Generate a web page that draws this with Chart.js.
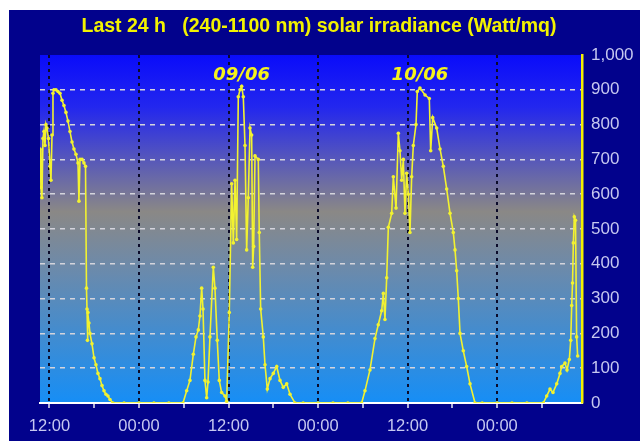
<!DOCTYPE html>
<html>
<head>
<meta charset="utf-8">
<title>Solar irradiance</title>
<script src="https://cdn.jsdelivr.net/npm/chart.js@4.4.1/dist/chart.umd.min.js"></script>
<style>
  html, body { margin: 0; padding: 0; background: #fff; }
  #wrap { width: 644px; height: 441px; position: relative; }
</style>
</head>
<body>
<div id="wrap"><canvas id="chart"></canvas></div>
<script>
// time in hours since 08/06 12:00, irradiance in W/m2
const hours = [
  -1.27, -1.14, -1.01, -0.87, -0.74, -0.60, -0.47, -0.34, -0.13, 0.07, 0.20, 0.34, 0.47, 0.60, 0.87,
  1.14, 1.41, 1.68, 1.94, 2.21, 2.48, 2.75, 3.02, 3.28, 3.55, 3.82, 3.95, 4.09, 4.36, 4.62, 4.83,
  4.96, 5.03, 5.09, 5.16, 5.29, 5.43, 5.70, 5.97, 6.23, 6.50, 6.77, 7.04, 7.31, 7.57, 7.84, 8.11, 8.51,
  10, 12, 14, 16,
  17.90, 18.39, 18.83, 19.28, 19.64, 19.95, 20.17, 20.40, 20.58, 20.84, 21.07, 21.25, 21.51, 21.96,
  22.18, 22.49, 22.76, 23.08, 23.53, 23.75, 24.10, 24.42, 24.64, 24.87, 25.09, 25.31, 25.54, 25.76,
  25.98, 26.21, 26.43, 26.65, 26.88, 27.10, 27.24, 27.37, 27.55, 27.99, 28.12, 28.31, 28.66, 28.89,
  29.20, 29.56, 30.00, 30.46, 30.90, 31.34, 31.80, 32.24, 32.91,
  34, 36, 38, 40,
  41.85, 42.29, 42.96, 43.63, 44.07, 44.53, 44.75, 44.97, 45.20, 45.42, 45.87, 46.09, 46.45, 46.76,
  46.98, 47.21, 47.43, 47.65, 47.88, 48.10, 48.32, 48.55, 48.77, 49.13, 49.30, 49.66, 50.34, 50.91,
  51.10, 51.37, 51.90, 52.35, 52.79, 53.24, 53.69, 54.13, 54.36, 54.58, 54.80, 55.03, 55.47, 55.92,
  56.37, 57.04,
  58, 60, 62, 64,
  66.19, 66.65, 67.09, 67.49, 67.99, 68.43, 68.66, 69.10, 69.37, 69.68, 69.87, 70.00, 70.11, 70.22,
  70.35, 70.51, 70.66, 70.80
];
const irradiance = [
  730, 620, 590, 760, 780, 740, 800, 790, 760, 680, 640, 770, 890, 900, 900,
  895, 890, 870, 855, 835, 810, 780, 750, 730, 715, 690, 580, 700, 700, 690, 680,
  330, 270, 180, 260, 230, 200, 170, 130, 110, 85, 70, 50, 35, 25, 20, 10, 0,
  0, 0, 0, 0,
  0, 35, 65, 140, 190, 210, 250, 330, 270, 65, 15, 60, 190, 390,
  330, 180, 65, 30, 20, 5, 260, 630, 460, 640, 470, 880, 900, 910,
  880, 740, 440, 590, 790, 770, 390, 450, 710, 700, 490, 270, 190, 110,
  40, 70, 85, 105, 65, 45, 55, 25, 0,
  0, 0, 0, 0,
  0, 35, 95, 185, 225, 265, 315, 240, 360, 505, 545, 650, 560, 775,
  725, 640, 700, 545, 660, 600, 490, 650, 740, 800, 895, 905, 885, 875,
  725, 820, 790, 730, 680, 615, 545, 490, 440, 380, 300, 200, 150, 105,
  55, 0,
  0, 0, 0, 0,
  0, 20, 40, 30, 55, 85, 105, 115, 95, 125, 180, 280, 345, 460,
  535, 525, 190, 135
];
const tickHours = [0, 6, 12, 18, 24, 30, 36, 42, 48, 54, 60, 66];
const dayLabels = ['09/06', '10/06'];
const dayStartHours = [12, 36];
const titleText = 'Last 24 h   (240-1100 nm) solar irradiance (Watt/mq)';

const points = hours.map((h, i) => ({ x: h, y: irradiance[i] }));

function hourLabel(h) {
  if (h % 12 !== 0) return '';
  return String((12 + h) % 24).padStart(2, '0') + ':00';
}

// navy frame + gradient plot background + title
const backdrop = {
  id: 'backdrop',
  beforeDraw(chart) {
    const { ctx, chartArea: a } = chart;
    ctx.save();
    ctx.fillStyle = '#ffffff';
    ctx.fillRect(0, 0, chart.width, chart.height);
    ctx.fillStyle = '#02028c';
    ctx.fillRect(9, 10, 631, 431);
    const g = ctx.createLinearGradient(0, a.top, 0, a.bottom);
    g.addColorStop(0, '#0a0cfa');
    g.addColorStop(0.15, '#2327ee');
    g.addColorStop(0.45, '#8a8886');
    g.addColorStop(0.6, '#6f8aa8');
    g.addColorStop(1, '#168ef6');
    ctx.fillStyle = g;
    ctx.fillRect(a.left, a.top, a.right - a.left, a.bottom - a.top);

    ctx.font = 'bold 19.5px "Liberation Sans", Arial, sans-serif';
    ctx.fillStyle = '#f2f200';
    ctx.textAlign = 'center';
    ctx.textBaseline = 'middle';
    ctx.fillText(titleText, 319, 27);
    ctx.restore();
  }
};

// day labels placed over each day's maximum
const dayMarks = {
  id: 'dayMarks',
  afterDatasetsDraw(chart) {
    const { ctx, scales: { x, y } } = chart;
    ctx.save();
    ctx.font = 'italic bold 18px "DejaVu Sans", sans-serif';
    ctx.fillStyle = '#f4f21c';
    ctx.textAlign = 'center';
    ctx.textBaseline = 'middle';
    dayLabels.forEach((label, d) => {
      let best = null;
      points.forEach(p => {
        if (p.x >= dayStartHours[d] && p.x < dayStartHours[d] + 24 && (!best || p.y > best.y)) best = p;
      });
      ctx.fillText(label, x.getPixelForValue(best.x), y.getPixelForValue(942));
    });
    ctx.restore();
  }
};

new Chart(document.getElementById('chart'), {
  type: 'line',
  data: {
    datasets: [{
      data: points,
      borderColor: '#f2f230',
      backgroundColor: '#f2f230',
      borderWidth: 1.6,
      pointRadius: 1.8,
      pointBorderWidth: 0,
      tension: 0
    }]
  },
  options: {
    responsive: true,
    maintainAspectRatio: false,
    animation: false,
    layout: { padding: { left: 40, right: 0, top: 55, bottom: 0 } },
    plugins: {
      legend: { display: false },
      tooltip: { enabled: false },
      title: { display: false }
    },
    scales: {
      x: {
        type: 'linear',
        min: -1.27,
        max: 71.38,
        afterBuildTicks: axis => { axis.ticks = tickHours.map(v => ({ value: v })); },
        afterFit: axis => { axis.height = 38; },
        ticks: {
          color: '#c6c8f0',
          font: { family: '"Liberation Sans", Arial, sans-serif', size: 16.5 },
          padding: 9,
          maxRotation: 0,
          autoSkip: false,
          callback: v => hourLabel(v)
        },
        grid: {
          color: c => (c.tick && c.tick.value % 12 === 0) ? '#0b0b2a' : 'transparent',
          lineWidth: 2,
          tickColor: '#e8e8f4',
          tickLength: 5,
          tickWidth: 1.5
        },
        border: { color: '#ffffff', width: 2, dash: [3, 4] }
      },
      y: {
        position: 'right',
        min: 0,
        max: 1000,
        afterFit: axis => { axis.width = 62; },
        ticks: {
          stepSize: 100,
          color: '#c6c8f0',
          font: { family: '"Liberation Sans", Arial, sans-serif', size: 17 },
          padding: 9,
          callback: v => v.toLocaleString('en-US')
        },
        grid: {
          color: c => (c.tick && c.tick.value === 1000) ? 'transparent' : '#d4d4dc',
          lineWidth: 1.5,
          drawTicks: false
        },
        border: { color: '#f4f000', width: 2.5, dash: [5, 5] }
      }
    }
  },
  plugins: [backdrop, dayMarks]
});
</script>
</body>
</html>
